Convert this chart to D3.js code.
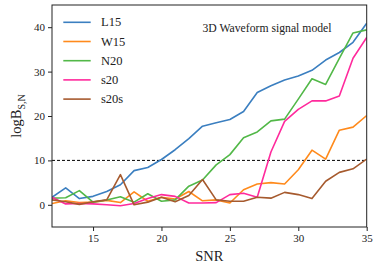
<!DOCTYPE html>
<html><head><meta charset="utf-8">
<script src="https://cdn.jsdelivr.net/npm/d3@7"></script>
<style>body{margin:0;background:#fff}svg{display:block}text{font-family:"Liberation Serif","DejaVu Serif",serif;fill:#222}</style>
</head><body><svg id="c" width="374" height="267"></svg>
<script>
const snr = d3.range(12, 36);
const L15 = [1.7,3.8,1.4,1.9,3.0,4.5,7.7,8.4,10.2,12.4,14.9,17.7,18.5,19.2,21.0,25.3,26.8,28.1,29.0,30.3,32.6,34.3,36.6,40.9];
const W15 = [0.3,0.9,0.5,0.6,1.0,0.5,2.9,0.8,1.7,1.3,3.0,0.9,1.1,0.4,3.4,4.7,5.0,4.7,7.9,12.3,10.3,16.8,17.5,20.1];
const N20 = [1.5,1.6,3.2,0.6,1.1,1.8,0.6,2.5,0.8,1.1,4.2,5.6,9.0,11.3,15.1,16.4,18.9,19.3,23.8,28.4,27.1,33.0,38.7,39.4];
const s20 = [1.7,0.2,0.3,0.2,0.0,-0.2,0.3,1.4,2.3,1.9,0.4,0.4,0.5,2.3,2.6,1.7,11.9,18.8,21.5,23.4,23.4,24.5,33.0,37.7];
const s20s = [1.1,0.7,0.1,0.7,1.1,6.8,0.0,0.6,1.7,0.7,2.1,5.7,1.1,0.8,0.8,1.7,1.5,2.8,2.3,1.4,5.3,7.3,8.1,10.3];
const seriesNames = ["L15","W15","N20","s20","s20s"];
const seriesValues = [L15,W15,N20,s20,s20s];
const colors = ["#3b7fc0","#ff8a1c","#52b848","#ff2a9c","#a65a2e"];
const xTicks = [15,20,25,30,35];
const yTicks = [0,10,20,30,40];
const threshold = 10;
const title = "3D Waveform signal model";

const svg = d3.select("#c");
const m = {l:52, r:366.7, t:5, b:227};
const x = d3.scaleLinear().domain([12,35]).range([m.l, m.r]);
const y = d3.scaleLinear().domain([-5,45]).range([m.b, m.t]);

const gx = svg.append("g").attr("transform",`translate(0,${m.b})`)
  .call(d3.axisBottom(x).tickValues(xTicks).tickSize(4).tickPadding(3));
const gy = svg.append("g").attr("transform",`translate(${m.l},0)`)
  .call(d3.axisLeft(y).tickValues(yTicks).tickSize(4).tickPadding(3));
[gx,gy].forEach(g=>{g.select(".domain").remove();
  g.selectAll("text").style("font-size","11px").style("font-family",'"Liberation Serif",serif').attr("fill","#222");
  g.selectAll("line").attr("stroke","#222");});

svg.append("line").attr("x1",m.l).attr("x2",m.r).attr("y1",y(threshold)).attr("y2",y(threshold))
  .attr("stroke","#000").attr("stroke-width",1).attr("stroke-dasharray","3,2");

const line = d3.line().x((d,i)=>x(snr[i])).y(d=>y(d));
const clip = svg.append("clipPath").attr("id","cp").append("rect")
  .attr("x",m.l).attr("y",m.t).attr("width",m.r-m.l).attr("height",m.b-m.t);
seriesValues.forEach((vals,k)=>{
  svg.append("path").datum(vals).attr("d",line).attr("fill","none")
    .attr("stroke",colors[k]).attr("stroke-width",1.6).attr("stroke-linejoin","round")
    .attr("clip-path","url(#cp)");
});

svg.append("rect").attr("x",m.l).attr("y",m.t).attr("width",m.r-m.l).attr("height",m.b-m.t)
  .attr("fill","none").attr("stroke","#222").attr("stroke-width",1);

// legend
seriesNames.forEach((n,k)=>{
  const yy = 22.3 + k*19.2;
  svg.append("line").attr("x1",63.3).attr("x2",90.7).attr("y1",yy).attr("y2",yy)
    .attr("stroke",colors[k]).attr("stroke-width",1.6);
  svg.append("text").attr("x",101).attr("y",yy+4).style("font-size","12.5px").text(n);
});

svg.append("text").attr("x",202.5).attr("y",31.5).style("font-size","11.7px").text(title);

svg.append("text").attr("x",(m.l+m.r)/2).attr("y",261).attr("text-anchor","middle")
  .style("font-size","14.5px").text("SNR");

const yl = svg.append("text").attr("transform",`translate(21,116) rotate(-90)`).attr("text-anchor","middle")
  .style("font-size","14.5px");
yl.append("tspan").text("logB");
yl.append("tspan").attr("dy",4).style("font-size","10px").text("S,N");
</script></body></html>
